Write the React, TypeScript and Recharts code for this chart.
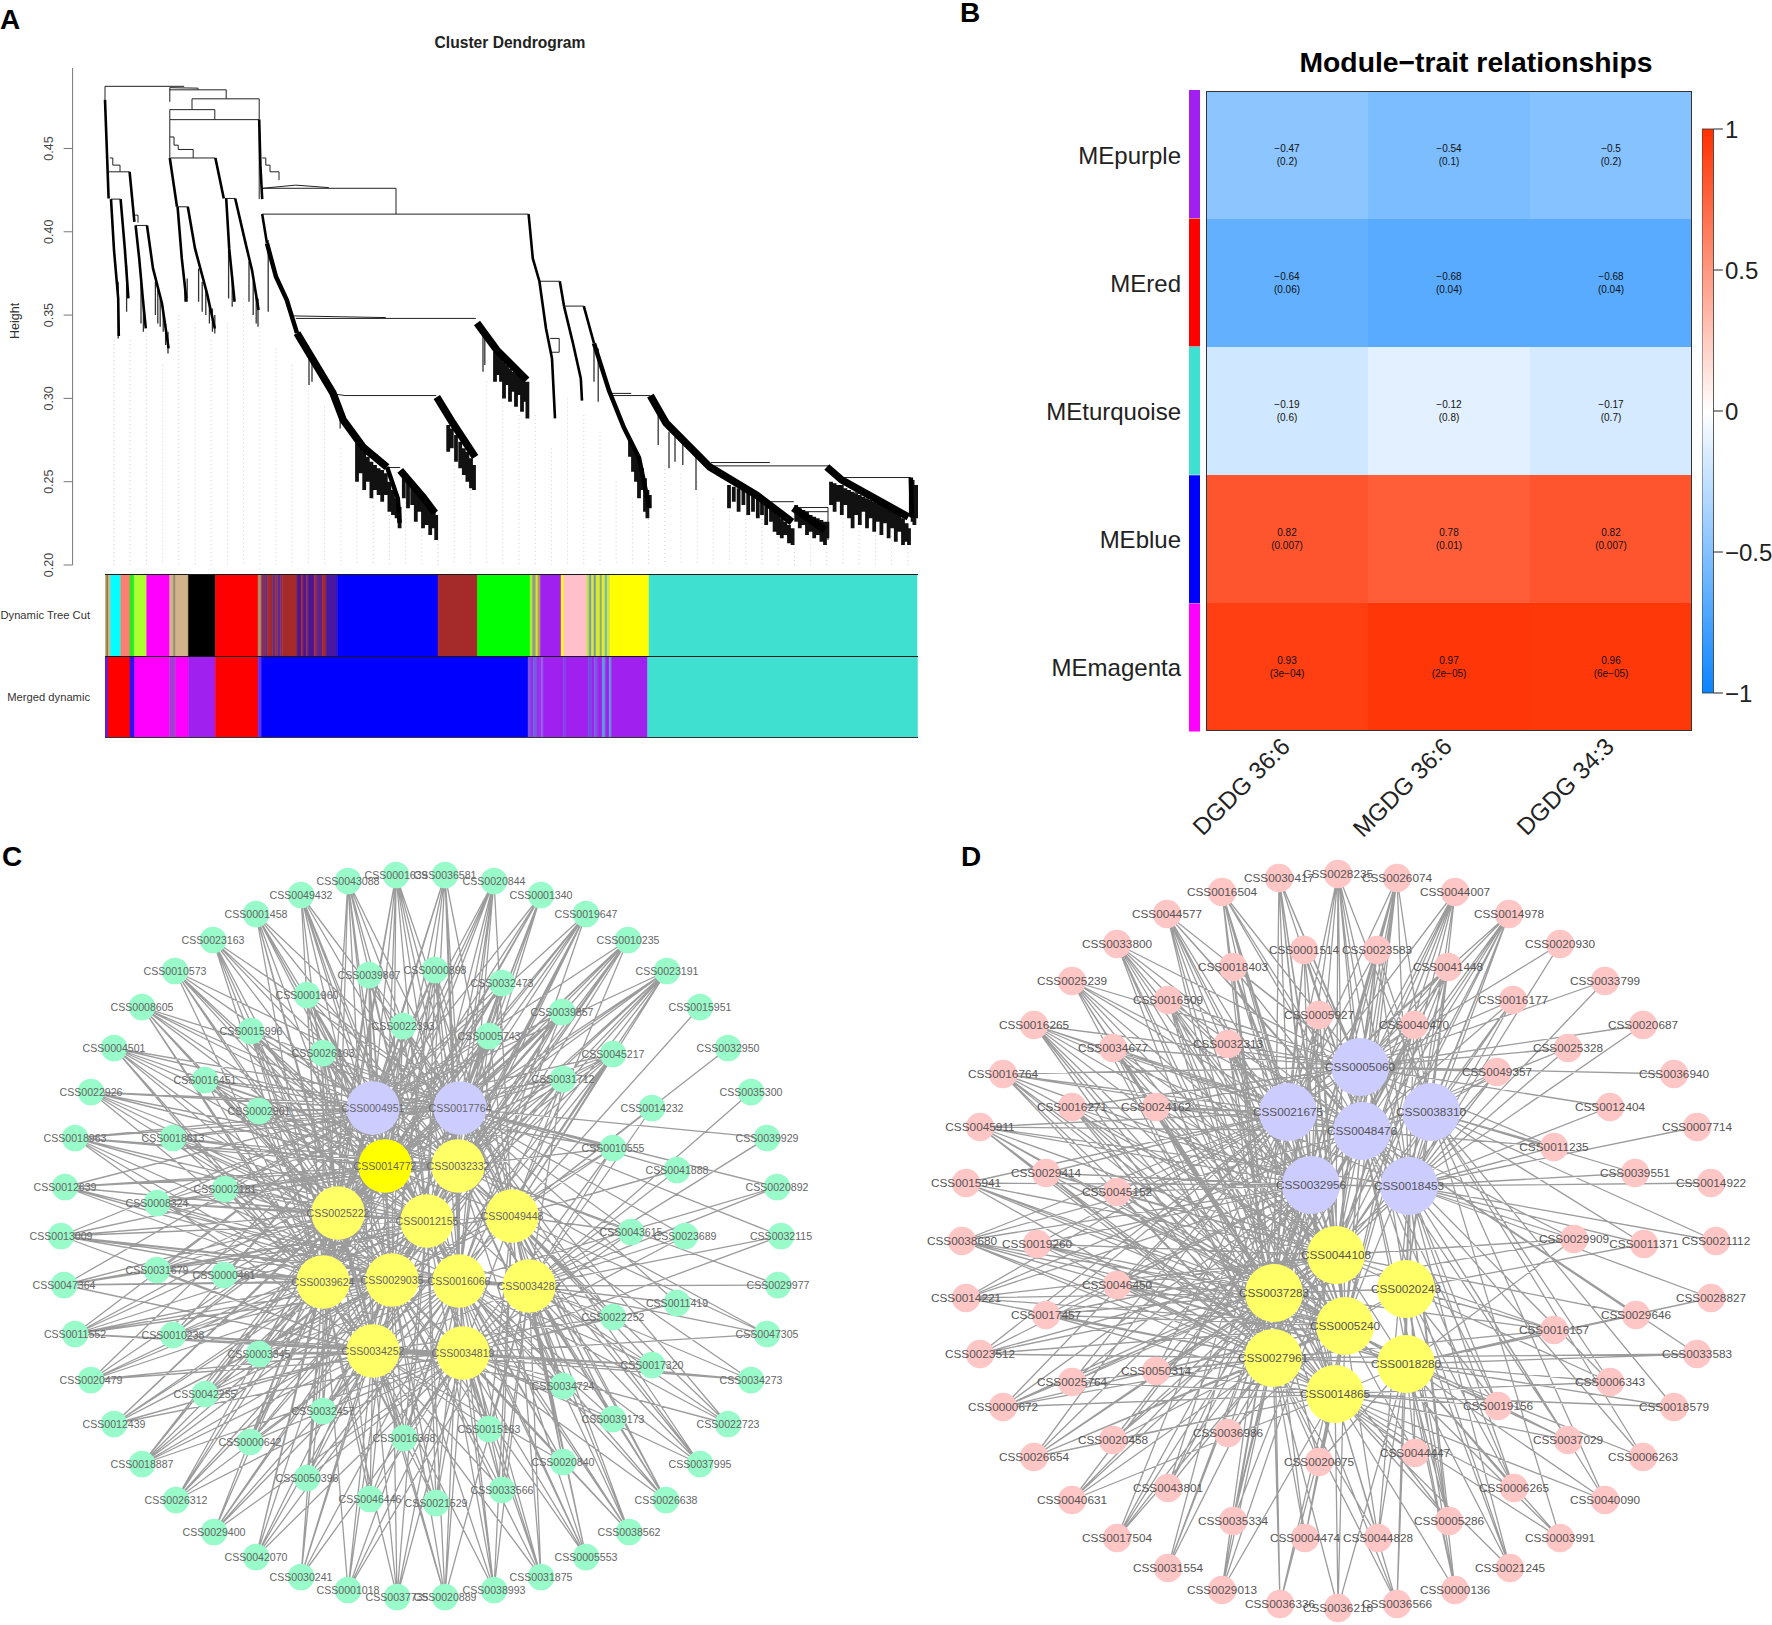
import {
  Area,
  Bar,
  BarChart,
  Cell,
  ComposedChart,
  LabelList,
  Line,
  ReferenceArea,
  Scatter,
  XAxis,
  YAxis,
} from "recharts";

const FONT = "'Liberation Sans', Arial, sans-serif";

// ---- panel A: dendrogram, x = leaf order, y = merge height
const heightTicks = [0.2, 0.25, 0.3, 0.35, 0.4, 0.45];
const treeMerges = [
  [[0, 0.4792], [0, 0.4873], [132, 0.4873]],
  [[108, 0.485], [108, 0.4865], [155, 0.4862], [155, 0.4852]],
  [[108, 0.478], [108, 0.4852], [202, 0.4852], [202, 0.4798]],
  [[145, 0.4733], [145, 0.4798], [257, 0.4798], [257, 0.4673]],
  [[108, 0.4673], [108, 0.4733], [183, 0.4733], [183, 0.4673]],
  [[108, 0.4443], [108, 0.4673], [257, 0.4673], [257, 0.4196]],
  [[108, 0.4569], [115, 0.4569], [115, 0.452], [122, 0.452], [122, 0.4494], [147, 0.4494], [147, 0.4443]],
  [[110, 0.4443], [184, 0.4443]],
  [[8, 0.4443], [13, 0.4443], [13, 0.44], [25, 0.44], [25, 0.436]],
  [[6, 0.436], [41, 0.436]],
  [[10, 0.4196], [26, 0.4196]],
  [[51, 0.4038], [70, 0.4038]],
  [[48, 0.41], [55, 0.41], [55, 0.4055]],
  [[121, 0.415], [138, 0.415]],
  [[200, 0.42], [217, 0.42]],
  [[262, 0.4443], [268, 0.4443], [268, 0.44], [275, 0.44], [275, 0.436], [290, 0.436], [290, 0.431]],
  [[262, 0.4261], [318, 0.428], [373, 0.4265]],
  [[262, 0.4261], [485, 0.4261], [485, 0.4106]],
  [[262, 0.4106], [706, 0.4106]],
  [[315, 0.3495], [393, 0.349], [468, 0.3485]],
  [[318, 0.348], [618, 0.348]],
  [[385, 0.3025], [400, 0.3017], [552, 0.3017]],
  [[472, 0.2585], [492, 0.2585]],
  [[724, 0.3703], [758, 0.3703]],
  [[742, 0.336], [757, 0.336], [757, 0.3277], [745, 0.3277]],
  [[765, 0.3554], [798, 0.3554]],
  [[843, 0.303], [877, 0.303]],
  [[843, 0.3017], [909, 0.3017]],
  [[1010, 0.2615], [1108, 0.2615]],
  [[1010, 0.2595], [1206, 0.2595]],
  [[1110, 0.238], [1148, 0.238]],
  [[1148, 0.2345], [1205, 0.2345], [1205, 0.215]],
  [[1160, 0.232], [1205, 0.232]],
  [[1230, 0.2525], [1343, 0.2525]],
  [[1250, 0.2435], [1290, 0.24]],
];
const strandsMid = [
  [[0, 0.4792], [3, 0.45], [6, 0.42]],
  [[10, 0.4196], [15, 0.389], [22, 0.36], [23, 0.3375]],
  [[26, 0.4196], [33, 0.39], [39, 0.36]],
  [[41, 0.436], [49, 0.406]],
  [[51, 0.4038], [57, 0.384], [63, 0.36], [68, 0.342]],
  [[70, 0.4038], [80, 0.378], [95, 0.357], [106, 0.33]],
  [[108, 0.4443], [120, 0.415]],
  [[121, 0.415], [128, 0.384], [136, 0.358]],
  [[138, 0.415], [150, 0.39], [170, 0.363], [183, 0.342]],
  [[184, 0.4443], [198, 0.42]],
  [[202, 0.42], [207, 0.39], [216, 0.358]],
  [[217, 0.42], [235, 0.392], [245, 0.377], [256, 0.353]],
  [[257, 0.4673], [259, 0.44], [262, 0.4196]],
  [[706, 0.4106], [713, 0.384], [724, 0.3703]],
  [[724, 0.3703], [735, 0.342], [745, 0.324], [750, 0.288]],
  [[758, 0.3703], [765, 0.3554]],
  [[765, 0.3554], [780, 0.333], [793, 0.312], [795, 0.2987]],
  [[798, 0.3554], [815, 0.333]],
  [[262, 0.4106], [270, 0.393]],
];
const strandsThick = [
  [[270, 0.393], [285, 0.373], [303, 0.359], [320, 0.3392]],
  [[470, 0.2588], [488, 0.24], [491, 0.2252]],
  [[815, 0.333], [840, 0.3047], [865, 0.2823], [890, 0.2644], [907, 0.2346]],
  [[1343, 0.2525], [1345, 0.2285]],
];
const strandsFat = [
  [[320, 0.3392], [347, 0.323], [380, 0.3032], [397, 0.287], [430, 0.2708], [470, 0.2588]],
  [[492, 0.2568], [530, 0.2408], [550, 0.2312]],
  [[553, 0.3008], [580, 0.285], [617, 0.2648]],
  [[620, 0.3452], [653, 0.329], [703, 0.311]],
  [[909, 0.3017], [935, 0.2853], [975, 0.2708], [1008, 0.2588], [1086, 0.242], [1145, 0.2258]],
  [[1147, 0.2342], [1200, 0.221]],
  [[1203, 0.2588], [1228, 0.251], [1267, 0.2432], [1339, 0.2288]],
];
// single thin leaves hanging under the strands
const thinHairs = [
  [22, 0.37, 0.336], [36, 0.38, 0.352], [60, 0.37, 0.345], [64, 0.36, 0.34],
  [84, 0.37, 0.35], [88, 0.365, 0.345], [92, 0.36, 0.343], [97, 0.355, 0.34], [101, 0.345, 0.332], [105, 0.34, 0.327],
  [133, 0.37, 0.358], [137, 0.372, 0.36], [156, 0.378, 0.358], [162, 0.37, 0.352], [168, 0.365, 0.35], [174, 0.358, 0.345], [179, 0.354, 0.34], [183, 0.35, 0.339],
  [206, 0.395, 0.36], [212, 0.375, 0.355], [240, 0.382, 0.358], [247, 0.37, 0.35], [252, 0.362, 0.345], [255, 0.36, 0.343],
  [272, 0.395, 0.352], [340, 0.33, 0.308], [345, 0.325, 0.31], [392, 0.29, 0.282],
  [630, 0.338, 0.316], [633, 0.336, 0.32], [815, 0.33, 0.31], [822, 0.33, 0.298],
  [922, 0.29, 0.272], [940, 0.28, 0.258], [950, 0.278, 0.262], [963, 0.274, 0.26], [985, 0.268, 0.245],
];
// tails of the big branches, close enough to merge into a spiky band
const tailHairs = [
  [420, 0.275, 0.25], [426, 0.27, 0.255], [432, 0.268, 0.245], [438, 0.265, 0.25], [444, 0.262, 0.24], [450, 0.26, 0.245], [456, 0.258, 0.242], [462, 0.257, 0.238], [468, 0.255, 0.242], [474, 0.25, 0.232], [480, 0.245, 0.23], [486, 0.24, 0.228], [491, 0.235, 0.222],
  [498, 0.256, 0.24], [505, 0.252, 0.234], [512, 0.248, 0.236], [518, 0.245, 0.226], [524, 0.242, 0.232], [530, 0.24, 0.222], [536, 0.236, 0.224], [542, 0.234, 0.218], [548, 0.232, 0.222], [552, 0.23, 0.215],
  [572, 0.284, 0.268], [578, 0.282, 0.27], [585, 0.278, 0.262], [592, 0.274, 0.258], [598, 0.27, 0.254], [604, 0.268, 0.25], [610, 0.264, 0.246], [615, 0.26, 0.245],
  [650, 0.328, 0.31], [655, 0.328, 0.314], [660, 0.325, 0.31], [665, 0.322, 0.3], [670, 0.32, 0.308], [675, 0.318, 0.298], [680, 0.316, 0.304], [685, 0.315, 0.295], [690, 0.314, 0.302], [695, 0.312, 0.292], [700, 0.31, 0.298], [704, 0.31, 0.288],
  [875, 0.275, 0.265], [880, 0.27, 0.256], [885, 0.268, 0.25], [890, 0.264, 0.24], [895, 0.258, 0.245], [900, 0.252, 0.232], [904, 0.245, 0.228], [908, 0.242, 0.234],
  [1040, 0.248, 0.234], [1048, 0.247, 0.238], [1056, 0.246, 0.232], [1064, 0.245, 0.236], [1072, 0.244, 0.23], [1080, 0.243, 0.232], [1088, 0.242, 0.228], [1095, 0.24, 0.23], [1102, 0.238, 0.224], [1110, 0.235, 0.226], [1116, 0.232, 0.22], [1122, 0.23, 0.218], [1128, 0.228, 0.216], [1134, 0.226, 0.218], [1140, 0.224, 0.213], [1146, 0.222, 0.212],
  [1152, 0.236, 0.226], [1158, 0.234, 0.222], [1164, 0.233, 0.224], [1170, 0.232, 0.218], [1176, 0.23, 0.22], [1182, 0.229, 0.216], [1188, 0.228, 0.218], [1194, 0.227, 0.214], [1200, 0.226, 0.212], [1204, 0.226, 0.216],
  [1210, 0.25, 0.236], [1216, 0.249, 0.232], [1222, 0.248, 0.238], [1228, 0.248, 0.23], [1234, 0.246, 0.236], [1240, 0.245, 0.228], [1246, 0.244, 0.222], [1252, 0.243, 0.23], [1258, 0.242, 0.224], [1264, 0.241, 0.232], [1270, 0.24, 0.222], [1276, 0.239, 0.228], [1282, 0.238, 0.22], [1288, 0.237, 0.226], [1294, 0.236, 0.218], [1300, 0.235, 0.225], [1306, 0.234, 0.216], [1312, 0.233, 0.222], [1318, 0.232, 0.214], [1324, 0.23, 0.22], [1330, 0.228, 0.212], [1336, 0.225, 0.214], [1340, 0.222, 0.212],
  [1343, 0.251, 0.229], [1346, 0.251, 0.226], [1349, 0.248, 0.224], [1352, 0.246, 0.228], [1355, 0.248, 0.23],
];
const guideX = [15, 42, 69, 96, 123, 150, 177, 204, 231, 258, 285, 312, 339, 366, 393, 420, 447, 474, 501, 528, 555, 582, 609, 636, 663, 690, 717, 744, 771, 798, 825, 852, 879, 906, 933, 960, 987, 1014, 1041, 1068, 1095, 1122, 1149, 1176, 1203, 1230, 1257, 1284, 1311, 1338];
const guideTop = [0.335, 0.335, 0.34, 0.32, 0.35, 0.345, 0.335, 0.345, 0.36, 0.345, 0.33, 0.32, 0.305, 0.295, 0.27, 0.25, 0.245, 0.23, 0.24, 0.225, 0.215, 0.26, 0.245, 0.31, 0.3, 0.29, 0.29, 0.27, 0.3, 0.29, 0.28, 0.25, 0.24, 0.23, 0.26, 0.255, 0.25, 0.24, 0.235, 0.23, 0.23, 0.22, 0.215, 0.22, 0.215, 0.24, 0.23, 0.225, 0.22, 0.215];

// colour rows under the tree, widths are in leaf counts
const treeCutColors = ["#d2b48c", "#7a6a20", "#d2b48c", "#00ffff", "#fa8072", "#22ee22", "#adff2f", "#ff00ff", "#d2b48c", "#9a8a70", "#d2b48c", "#000000", "#ff0000", "#b08a6a", "#8a2a5a", "#5a2a8a", "#a52a2a", "#6a2a7a", "#a52a2a", "#5a2a9a", "#8a2a5a", "#a52a2a", "#a52a2a", "#4a1590", "#a52a2a", "#4a1590", "#8a2a5a", "#4a1590", "#9a2a4a", "#5a2090", "#a52a2a", "#4818a0", "#0000ff", "#a52a2a", "#00ff00", "#b8e040", "#8aa080", "#e0e030", "#a8a060", "#ffff00", "#a020f0", "#ffff00", "#ffc0cb", "#c8e040", "#70a0a0", "#e0e040", "#70a0a0", "#d8e838", "#8ab070", "#e8e830", "#60c0b0", "#d0e050", "#ffff00", "#40e0d0"];
const treeCutWidths = [1.7, 1.3, 2.7, 10, 9.3, 4.2, 12.5, 23, 3.7, 2.3, 12.7, 27, 42.7, 3.3, 4, 2, 5, 3, 2, 3, 2, 14.7, 0, 4, 2, 3, 2, 6, 3, 5, 4, 11.3, 100.7, 39.3, 52.7, 2.5, 3.3, 2, 2.5, 0, 20.7, 2.7, 23, 2.4, 2.3, 2.5, 2, 4, 2, 3, 2, 3, 39, 268];
const mergedColors = ["#5a20e0", "#ff0000", "#3010f0", "#ff00ff", "#a040d0", "#ff00ff", "#a020f0", "#ff0000", "#6a30e8", "#0000ff", "#7a50e0", "#a020f0", "#7060e0", "#a020f0", "#9040e8", "#a020f0", "#8a70e0", "#a020f0", "#6a50e0", "#a020f0", "#6a50e0", "#a020f0", "#7060e0", "#a020f0", "#50a0d0", "#a020f0", "#50a0d0", "#a020f0", "#40e0d0"];
const mergedWidths = [3, 22, 4.7, 35, 6, 12.7, 27, 42.7, 3.3, 266.7, 3, 2, 4, 2, 1, 1.5, 1.5, 20.5, 1.7, 23, 3, 3, 3, 5, 3, 4, 2, 36.3, 269.9];

// ---- panel B: heat map
const moduleNames = ["MEpurple", "MEred", "MEturquoise", "MEblue", "MEmagenta"];
const moduleColors = ["#a020f0", "#ff0000", "#40e0d0", "#0000ff", "#ff00ff"];
const traitNames = ["DGDG 36:6", "MGDG 36:6", "DGDG 34:3"];
const traitCorr = [
  [-0.47, -0.54, -0.5],
  [-0.64, -0.68, -0.68],
  [-0.19, -0.12, -0.17],
  [0.82, 0.78, 0.82],
  [0.93, 0.97, 0.96],
];
const traitCorrText = [
  ["−0.47", "−0.54", "−0.5"],
  ["−0.64", "−0.68", "−0.68"],
  ["−0.19", "−0.12", "−0.17"],
  ["0.82", "0.78", "0.82"],
  ["0.93", "0.97", "0.96"],
];
const traitP = [
  ["(0.2)", "(0.1)", "(0.2)"],
  ["(0.06)", "(0.04)", "(0.04)"],
  ["(0.6)", "(0.8)", "(0.7)"],
  ["(0.007)", "(0.01)", "(0.007)"],
  ["(3e−04)", "(2e−05)", "(6e−05)"],
];
const barTicks = [-1, -0.5, 0, 0.5, 1];

// ---- panels C and D: hubs are [name, x, y], leaves are [name, x, y, hubs it links to]
const cPurpleHubs = [["CSS0004951", 373, 1108], ["CSS0017764", 460, 1108]];
const cBrightHub = [["CSS0014772", 385, 1166]];
const cYellowHubs = [
  ["CSS0032332", 458, 1166], ["CSS0025222", 338, 1213], ["CSS0012155", 427, 1221], ["CSS0049448", 512, 1216],
  ["CSS0039624", 323, 1282], ["CSS0029035", 392, 1280], ["CSS0016066", 459, 1281], ["CSS0034282", 529, 1286],
  ["CSS0034252", 373, 1351], ["CSS0034819", 463, 1353],
];
// a b are purple, c bright, d..m yellow in the order above
const cHubKeys = "abcdefghijklm";
const cHubLinks = "ac,ad,ae,af,ag,ah,bc,bd,be,bf,bg,bj,cd,ce,cf,cg,ci,ch,de,df,dg,dj,di,ef,eh,ei,el,fg,fi,fj,fl,fm,gj,gk,gm,hi,hl,hj,ij,il,im,ik,jk,jm,jl,kl,km,lm";
const cLeaves = [
  ["CSS0043088", 348, 881, "abcdfhjlei"], ["CSS0001639", 396, 875, "abcdefgijh"], ["CSS0036581", 445, 875, "abcdegjmfi"], ["CSS0020844", 494, 881, "abcdefghij"],
  ["CSS0001340", 541, 895, "abcdfehi"], ["CSS0019647", 586, 914, "abcdefhlij"], ["CSS0010235", 628, 940, "abcdefhigl"], ["CSS0023191", 667, 971, "abcdefhjlig"],
  ["CSS0015951", 700, 1007, "g"], ["CSS0032950", 728, 1048, "g"], ["CSS0035300", 751, 1092, "k"], ["CSS0039929", 767, 1138, "bk"],
  ["CSS0020892", 777, 1187, "bkj"], ["CSS0032115", 781, 1236, "bkm"], ["CSS0029977", 778, 1285, "dkk"], ["CSS0047305", 767, 1334, "dgkm"],
  ["CSS0034273", 751, 1380, "gklmk"], ["CSS0022723", 728, 1424, "bgkmj"], ["CSS0037995", 700, 1464, "dgjkmb"], ["CSS0026638", 666, 1500, "bdgjkmf"],
  ["CSS0038562", 629, 1532, "dfgjkmi"], ["CSS0005553", 586, 1557, "dfgjkmi"], ["CSS0031875", 541, 1577, "fijklmg"], ["CSS0038993", 494, 1590, "fgijlmk"],
  ["CSS0020889", 445, 1597, "ijklmfe"], ["CSS0037735", 397, 1597, "hijlmf"], ["CSS0001018", 348, 1590, "hijklm"], ["CSS0030241", 301, 1577, "ehilmj"],
  ["CSS0042070", 256, 1557, "cehjlim"], ["CSS0029400", 214, 1532, "ehijlmf"], ["CSS0026312", 176, 1500, "cehilfm"], ["CSS0018887", 142, 1464, "cefhijlm"],
  ["CSS0012439", 114, 1424, "eghilmfc"], ["CSS0020479", 91, 1380, "aefhilmi"], ["CSS0011552", 75, 1334, "acefhlmij"], ["CSS0047364", 64, 1285, "aeghijfhl"],
  ["CSS0013009", 61, 1236, "acefhjkil"], ["CSS0012639", 65, 1187, "acdefhij"], ["CSS0018963", 75, 1138, "abcefhidl"], ["CSS0022926", 91, 1092, "abcefhdi"],
  ["CSS0004501", 114, 1048, "abcefildh"], ["CSS0008605", 142, 1007, "abcefhidl"], ["CSS0010573", 175, 971, "abcefhdij"], ["CSS0023163", 213, 940, "abcefhidl"],
  ["CSS0001458", 256, 914, "abcefhijdl"], ["CSS0049432", 301, 895, "abcdefhij"],
  ["CSS0039867", 369, 975, "abcefildh"], ["CSS0000898", 435, 970, "abcdfgjei"], ["CSS0001960", 307, 995, "acefhijbd"], ["CSS0022393", 403, 1026, "abcdefiglh"],
  ["CSS0015996", 251, 1031, "acefhikbl"], ["CSS0026103", 323, 1053, "acefhilbd"], ["CSS0016451", 205, 1080, "abcefhdi"], ["CSS0002901", 259, 1111, "abcefhidl"],
  ["CSS0018613", 173, 1138, "abcefhidj"], ["CSS0002181", 225, 1189, "acefhikdl"], ["CSS0008324", 157, 1203, "abcefhjdi"], ["CSS0031679", 157, 1270, "cefhilak"],
  ["CSS0000461", 224, 1275, "aefhijhk"], ["CSS0010238", 173, 1335, "acehlmfi"], ["CSS0003345", 259, 1354, "cehilmfj"], ["CSS0042255", 205, 1394, "cehilfj"],
  ["CSS0032457", 323, 1411, "ehilmfg"], ["CSS0000642", 250, 1442, "cehilfm"], ["CSS0016368", 404, 1438, "hijlmef"], ["CSS0015163", 489, 1429, "gijklmf"],
  ["CSS0050396", 307, 1478, "ehiljm"], ["CSS0020840", 563, 1462, "gjklmfi"], ["CSS0046446", 370, 1499, "hilmej"], ["CSS0021529", 436, 1503, "ijlmfh"],
  ["CSS0033566", 502, 1490, "gjklmif"], ["CSS0034724", 563, 1386, "dgjkmbl"], ["CSS0039173", 613, 1419, "gjkmbd"], ["CSS0017320", 652, 1365, "gklmj"],
  ["CSS0022252", 613, 1317, "dgkmbl"], ["CSS0011419", 677, 1303, "bkmk"], ["CSS0032473", 502, 983, "abcdefhij"], ["CSS0039857", 562, 1012, "abcdefhijl"],
  ["CSS0005743", 489, 1036, "abcdefgjh"], ["CSS0045217", 613, 1054, "abdefgjcl"], ["CSS0031712", 563, 1079, "abdfgikcj"], ["CSS0014232", 652, 1108, "gk"],
  ["CSS0010555", 613, 1148, "bdgkmai"], ["CSS0041888", 677, 1170, "bgk"], ["CSS0043615", 631, 1232, "bdkmg"], ["CSS0023689", 685, 1236, "bkm"],
];

const dPurpleHubs = [
  ["CSS0021675", 1288, 1112], ["CSS0032956", 1311, 1185], ["CSS0005060", 1360, 1067], ["CSS0048476", 1362, 1131], ["CSS0038310", 1431, 1112], ["CSS0018453", 1409, 1186],
];
const dYellowHubs = [
  ["CSS0044108", 1336, 1255], ["CSS0037283", 1274, 1293], ["CSS0020243", 1406, 1289], ["CSS0005240", 1345, 1326], ["CSS0027961", 1273, 1358], ["CSS0018280", 1406, 1364], ["CSS0014865", 1335, 1394],
];
const dHubKeys = "abcdefghijklm";
const dHubLinks = "ab,ac,ad,ah,bd,bf,bg,bh,bk,cd,ce,cf,cg,de,df,dg,dj,ef,ei,eg,fg,fi,fl,fh,gh,gi,gj,gl,hj,hk,hi,ij,il,ik,jk,jl,jm,kl,km,lm,am,bm,dh,dk";
const dLeaves = [
  ["CSS0030417", 1279, 878, "abcdfghjkm"], ["CSS0028235", 1338, 874, "abcdefgjhi"], ["CSS0026074", 1397, 878, "abcdefhjkg"], ["CSS0016504", 1222, 892, "abcdhjkgfm"],
  ["CSS0044007", 1455, 892, "abcdefghkj"], ["CSS0044577", 1167, 914, "abcdhkgjfm"], ["CSS0014978", 1509, 914, "abcdefghkj"], ["CSS0033800", 1117, 944, "abcdhkgjm"],
  ["CSS0020930", 1560, 944, "cf"], ["CSS0025239", 1072, 981, "abcdhkjgm"], ["CSS0033799", 1605, 981, "cf"], ["CSS0016265", 1034, 1025, "abcdhkgjfm"],
  ["CSS0020687", 1643, 1025, "cf"], ["CSS0016764", 1003, 1074, "abchkgjdm"], ["CSS0036940", 1674, 1074, "c"], ["CSS0045911", 980, 1127, "abdhkgmjf"],
  ["CSS0007714", 1697, 1127, "f"], ["CSS0015941", 966, 1183, "abhkgjlm"], ["CSS0014922", 1711, 1183, "f"], ["CSS0038680", 962, 1241, "abdhkjml"],
  ["CSS0021112", 1716, 1241, "ef"], ["CSS0014221", 966, 1298, "abhkgjd"], ["CSS0028827", 1711, 1298, "fl"], ["CSS0023512", 980, 1354, "abhkjkg"],
  ["CSS0033583", 1697, 1354, "kkdl"], ["CSS0000672", 1003, 1407, "abhkmgj"], ["CSS0018579", 1674, 1407, "elm"], ["CSS0026654", 1034, 1457, "bhkgmaj"],
  ["CSS0006263", 1643, 1457, "efl"], ["CSS0040631", 1072, 1500, "hkmbg"], ["CSS0040090", 1605, 1500, "flme"], ["CSS0017504", 1117, 1538, "hkbga"],
  ["CSS0003991", 1560, 1538, "lmje"], ["CSS0031554", 1168, 1568, "hkba"], ["CSS0021245", 1510, 1568, "filmd"], ["CSS0029013", 1222, 1590, "hkgmba"],
  ["CSS0000136", 1455, 1590, "ilmfd"], ["CSS0036336", 1280, 1604, "kjmh"], ["CSS0036218", 1338, 1608, "jkml"], ["CSS0036566", 1397, 1604, "lmhfk"],
  ["CSS0001514", 1304, 950, "abcdhgjbd"], ["CSS0023583", 1377, 950, "abcdefgjh"], ["CSS0018403", 1233, 967, "abcdhkjgb"], ["CSS0041448", 1448, 967, "abcdefgijh"],
  ["CSS0016509", 1168, 1000, "abcdhkjgm"], ["CSS0016177", 1513, 1000, "cdfeg"], ["CSS0005927", 1319, 1015, "abcdghjk"], ["CSS0040470", 1414, 1025, "acdefghj"],
  ["CSS0032313", 1228, 1044, "abcdhkgjm"], ["CSS0034677", 1113, 1048, "abchkgjdm"], ["CSS0025328", 1568, 1048, "cdf"], ["CSS0049357", 1497, 1072, "cefdg"],
  ["CSS0016271", 1072, 1107, "abchkjgm"], ["CSS0024162", 1156, 1107, "abchkgmjd"], ["CSS0012404", 1610, 1107, "cff"], ["CSS0011235", 1554, 1147, "cefd"],
  ["CSS0029414", 1046, 1173, "abhkgjm"], ["CSS0045152", 1117, 1192, "abhkglj"], ["CSS0039551", 1635, 1173, "eff"], ["CSS0029909", 1574, 1239, "dfglh"],
  ["CSS0011371", 1644, 1244, "efi"], ["CSS0019260", 1037, 1244, "abhkjlg"], ["CSS0046450", 1117, 1285, "abhkgjlm"], ["CSS0017457", 1046, 1315, "abhkmgj"],
  ["CSS0050314", 1156, 1371, "bhkgjam"], ["CSS0025764", 1072, 1382, "bhkmag"], ["CSS0020458", 1113, 1440, "bhkmg"], ["CSS0036986", 1228, 1433, "hkgjb"],
  ["CSS0043801", 1168, 1488, "hkba"], ["CSS0020675", 1319, 1462, "kjlmh"], ["CSS0035334", 1233, 1521, "hkgb"], ["CSS0004474", 1305, 1538, "jkmh"],
  ["CSS0044828", 1378, 1538, "jlmfk"], ["CSS0005286", 1449, 1521, "hfilmd"], ["CSS0044447", 1415, 1453, "kjlmf"], ["CSS0006265", 1514, 1488, "filmd"],
  ["CSS0037029", 1568, 1440, "dflmh"], ["CSS0019156", 1498, 1406, "flimd"], ["CSS0006343", 1610, 1382, "eilmd"], ["CSS0016157", 1554, 1330, "iklgh"],
  ["CSS0029646", 1636, 1315, "dgl"],
];

const BAR_LOW = [10, 132, 255];
const BAR_HIGH = [255, 48, 0];
const corrColor = (v: number) => {
  const end = v < 0 ? BAR_LOW : BAR_HIGH;
  const t = Math.abs(v);
  const c = end.map((e) => Math.round(255 + (e - 255) * t));
  return `rgb(${c[0]},${c[1]},${c[2]})`;
};

const brokenPath = (paths: number[][][]) =>
  paths.flatMap((p) => [
    ...p.map(([x, y]) => ({ x, y })),
    { x: p[p.length - 1][0], y: null },
  ]);

const toHairPath = ([x, a, b]: number[]) => [[x, a], [x, b]];
const guidePaths = guideX.map((x, i) => [[x, guideTop[i]], [x, 0.2]]);

const Abs = ({ left, top, children }: any) => (
  <div style={{ position: "absolute", left, top }}>{children}</div>
);

const Rule = ({ left, top, width, height, color }: any) => (
  <div style={{ position: "absolute", left, top, width, height, background: color }} />
);

const PanelLetter = ({ left, baseline, text }: any) => (
  <div
    style={{
      position: "absolute",
      left,
      top: baseline - 21.7,
      fontFamily: FONT,
      fontWeight: 700,
      fontSize: 28,
      lineHeight: "24px",
      color: "#000",
    }}
  >
    {text}
  </div>
);

function Dendrogram() {
  const heightTick = ({ x, y, payload }: any) => (
    <text
      x={x - 9}
      y={y}
      transform={`rotate(-90 ${x - 9} ${y})`}
      textAnchor="middle"
      fontSize={12.5}
      fontFamily={FONT}
      fill="#444"
    >
      {payload.value.toFixed(2)}
    </text>
  );
  return (
    <ComposedChart width={925} height={585} margin={{ top: 68, right: 7, bottom: 20, left: 0 }}>
      <XAxis type="number" dataKey="x" domain={[-54, 1355]} hide allowDataOverflow />
      <YAxis
        type="number"
        dataKey="y"
        width={72.6}
        domain={[0.2, 0.4983]}
        ticks={heightTicks}
        tick={heightTick}
        tickSize={9}
        stroke="#777"
        interval={0}
        allowDataOverflow
      />
      <Line data={brokenPath(guidePaths)} dataKey="y" stroke="#cfcfcf" strokeWidth={1} strokeDasharray="1 3" dot={false} isAnimationActive={false} />
      <Line data={brokenPath(treeMerges)} dataKey="y" stroke="#222" strokeWidth={1} dot={false} isAnimationActive={false} />
      <Line data={brokenPath(thinHairs.map(toHairPath))} dataKey="y" stroke="#333" strokeWidth={1.3} dot={false} isAnimationActive={false} />
      <Line data={brokenPath(tailHairs.map(toHairPath))} dataKey="y" stroke="#111" strokeWidth={3.8} dot={false} isAnimationActive={false} />
      <Line data={brokenPath(strandsMid)} dataKey="y" stroke="#000" strokeWidth={2.6} dot={false} isAnimationActive={false} />
      <Line data={brokenPath(strandsThick)} dataKey="y" stroke="#000" strokeWidth={4.5} dot={false} isAnimationActive={false} />
      <Line data={brokenPath(strandsFat)} dataKey="y" stroke="#000" strokeWidth={7.5} dot={false} isAnimationActive={false} />
    </ComposedChart>
  );
}

function ColorRow({ label, widths, colors }: any) {
  const row: any = { label };
  widths.forEach((w: number, i: number) => (row[`s${i}`] = w));
  const rowTick = ({ x, y, payload }: any) => (
    <text x={x + 6} y={y + 4} textAnchor="end" fontSize={11.2} fontFamily={FONT} fill="#333">
      {payload.value}
    </text>
  );
  return (
    <BarChart
      width={918}
      height={82}
      data={[row]}
      layout="vertical"
      barCategoryGap={0}
      margin={{ top: 0, right: 0, bottom: 0, left: 0 }}
    >
      <XAxis type="number" domain={[0, 813]} hide allowDataOverflow />
      <YAxis
        type="category"
        dataKey="label"
        width={105}
        tickLine={false}
        axisLine={false}
        tickMargin={15}
        tick={rowTick}
      />
      {widths.map((_: number, i: number) => (
        <Bar key={i} dataKey={`s${i}`} stackId="row" fill={colors[i]} stroke={colors[i]} strokeWidth={0.5} isAnimationActive={false} />
      ))}
    </BarChart>
  );
}

function HeatMap() {
  const rows = moduleNames.map((m, r) => ({
    module: m,
    r,
    t0: 1,
    t1: 1,
    t2: 1,
  }));
  const traitTick = ({ x, y, payload }: any) => (
    <text
      x={x + 4.5}
      y={y + 9}
      transform={`rotate(-45 ${x + 4.5} ${y + 9})`}
      textAnchor="end"
      fontSize={24}
      fontFamily={FONT}
      fill="#222"
    >
      {traitNames[Math.floor(payload.value)]}
    </text>
  );
  const cellText = (col: number) => (p: any) => (
    <text textAnchor="middle" fontFamily={FONT} fontSize={10} fill="#111">
      <tspan x={p.x + p.width / 2} y={p.y + p.height / 2 - 3.4}>
        {traitCorrText[p.index][col]}
      </tspan>
      <tspan x={p.x + p.width / 2} y={p.y + p.height / 2 + 10}>
        {traitP[p.index][col]}
      </tspan>
    </text>
  );
  return (
    <BarChart
      width={692}
      height={770}
      data={rows}
      layout="vertical"
      barCategoryGap={0}
      margin={{ top: 0, right: 0, bottom: 0, left: 0 }}
    >
      <XAxis
        type="number"
        domain={[0, 3]}
        ticks={[0.5, 1.5, 2.5]}
        tick={traitTick}
        tickLine={false}
        axisLine={false}
        interval={0}
        height={130}
        allowDataOverflow
      />
      <YAxis
        type="category"
        dataKey="module"
        width={206}
        tickLine={false}
        axisLine={false}
        tickMargin={19}
        tick={{ fontSize: 24, fontFamily: FONT, fill: "#222" }}
      />
      {[0, 1, 2].map((col) => (
        <Bar key={col} dataKey={`t${col}`} stackId="cells" isAnimationActive={false}>
          {traitCorr.map((row, r) => (
            <Cell key={r} fill={corrColor(row[col])} />
          ))}
          <LabelList content={cellText(col)} />
        </Bar>
      ))}
    </BarChart>
  );
}

function ModuleStrip() {
  const rows = moduleNames.map((m) => ({ module: m, v: 1 }));
  return (
    <BarChart
      width={11}
      height={642}
      data={rows}
      layout="vertical"
      barCategoryGap={0}
      margin={{ top: 0, right: 0, bottom: 0, left: 0 }}
    >
      <XAxis type="number" domain={[0, 1]} hide />
      <YAxis type="category" dataKey="module" hide />
      <Bar dataKey="v" isAnimationActive={false}>
        {moduleColors.map((c) => (
          <Cell key={c} fill={c} />
        ))}
      </Bar>
    </BarChart>
  );
}

function ColorBar() {
  const fmt = (v: number) => String(v).replace("-", "−");
  return (
    <ComposedChart
      width={70}
      height={592}
      data={[{ x: 0, y: 1 }, { x: 1, y: 1 }]}
      margin={{ top: 14, right: 0, bottom: 14, left: 0 }}
    >
      <defs>
        <linearGradient id="corrBar" x1="0" y1="0" x2="0" y2="1">
          <stop offset="0%" stopColor="#ff3000" />
          <stop offset="50%" stopColor="#ffffff" />
          <stop offset="100%" stopColor="#0a84ff" />
        </linearGradient>
      </defs>
      <XAxis type="number" dataKey="x" domain={[0, 1]} hide />
      <YAxis
        orientation="right"
        width={58.5}
        domain={[-1, 1]}
        ticks={barTicks}
        tickFormatter={fmt}
        tickSize={9.4}
        tickMargin={2}
        axisLine={false}
        stroke="#222"
        tick={{ fontSize: 24, fontFamily: FONT, fill: "#222" }}
        interval={0}
      />
      <Area dataKey="y" baseValue={-1} fill="url(#corrBar)" fillOpacity={1} stroke="none" isAnimationActive={false} dot={false} />
      <ReferenceArea x1={0} x2={1} y1={-1} y2={1} fill="none" stroke="#333" strokeOpacity={0.8} />
    </ComposedChart>
  );
}

function Network({ left, width, hubKeys, hubLinks, hubs, leaves, groups, leafR, hubR, leafFill, fontSize, labelFill }: any) {
  const byKey: any = {};
  hubs.forEach((h: any, i: number) => (byKey[hubKeys[i]] = h));
  const paths: number[][][] = [];
  leaves.forEach((l: any) => {
    for (const k of l[3]) paths.push([[byKey[k][1], byKey[k][2]], [l[1], l[2]]]);
  });
  hubLinks.split(",").forEach((pair: string) => {
    const a = byKey[pair[0]];
    const b = byKey[pair[1]];
    paths.push([[a[1], a[2]], [b[1], b[2]]]);
  });
  const toRows = (list: any[]) => list.map((n) => ({ id: n[0], x: n[1], y: n[2] }));
  const dot = (r: number, fill: string) => (p: any) => <circle cx={p.cx} cy={p.cy} r={r} fill={fill} />;
  const labelStyle = { fontSize, fontFamily: FONT, fill: labelFill };
  return (
    <div style={{ position: "absolute", left, top: 840 }}>
      <ComposedChart width={width} height={785} margin={{ top: 0, right: 0, bottom: 0, left: 0 }}>
        <XAxis type="number" dataKey="x" domain={[left, left + width]} hide />
        <YAxis type="number" dataKey="y" domain={[840, 1625]} reversed hide />
        <Line data={brokenPath(paths)} dataKey="y" stroke="#9c9c9c" strokeWidth={1.3} dot={false} isAnimationActive={false} />
        <Scatter data={toRows(leaves)} shape={dot(leafR, leafFill)} isAnimationActive={false}>
          <LabelList dataKey="id" position="center" style={labelStyle} />
        </Scatter>
        {groups.map((g: any) => (
          <Scatter key={g.fill} data={toRows(g.nodes)} shape={dot(hubR, g.fill)} isAnimationActive={false}>
            <LabelList dataKey="id" position="center" style={labelStyle} />
          </Scatter>
        ))}
      </ComposedChart>
    </div>
  );
}

export default function App() {
  return (
    <div style={{ position: "absolute", left: 0, top: 0, width: 1772, height: 1625, background: "#fff", overflow: "hidden" }}>
      <PanelLetter left={0} baseline={30} text="A" />
      <PanelLetter left={960} baseline={23} text="B" />
      <PanelLetter left={2} baseline={867} text="C" />
      <PanelLetter left={961} baseline={867} text="D" />

      <div style={{ position: "absolute", left: 310, width: 400, top: 34, textAlign: "center", fontFamily: FONT, fontWeight: 700, fontSize: 15.6, color: "#222" }}>
        Cluster Dendrogram
      </div>
      <div style={{ position: "absolute", left: 0, top: 0 }}>
        <Dendrogram />
      </div>
      <div style={{ position: "absolute", left: 8, top: 339, transform: "rotate(-90deg)", transformOrigin: "0 0", fontFamily: FONT, fontSize: 12.5, color: "#333" }}>
        Height
      </div>
      <Abs left={0} top={574}>
        <ColorRow label="Dynamic Tree Cut" widths={treeCutWidths} colors={treeCutColors} />
      </Abs>
      <Abs left={0} top={656}>
        <ColorRow label="Merged dynamic" widths={mergedWidths} colors={mergedColors} />
      </Abs>
      <Rule left={105} top={574} width={813} height={1} color="#1a1a1a" />
      <Rule left={105} top={655.5} width={813} height={1} color="#1a1a1a" />
      <Rule left={105} top={737} width={813} height={1} color="#333" />

      <div style={{ position: "absolute", left: 1176, width: 600, top: 46, textAlign: "center", fontFamily: FONT, fontWeight: 700, fontSize: 28.3, color: "#000" }}>
        Module−trait relationships
      </div>
      <Abs left={1000} top={91}>
        <HeatMap />
      </Abs>
      <div style={{ position: "absolute", left: 1206, top: 91, width: 486, height: 640, border: "1px solid #333", boxSizing: "border-box" }} />
      <Abs left={1188.6} top={89.5}>
        <ModuleStrip />
      </Abs>
      <Abs left={1702} top={115}>
        <ColorBar />
      </Abs>

      <Network
        left={0}
        width={900}
        hubKeys={cHubKeys}
        hubLinks={cHubLinks}
        hubs={[...cPurpleHubs, ...cBrightHub, ...cYellowHubs]}
        leaves={cLeaves}
        groups={[
          { fill: "#ccccff", nodes: cPurpleHubs },
          { fill: "#ffff00", nodes: cBrightHub },
          { fill: "#ffff66", nodes: cYellowHubs },
        ]}
        leafR={13.3}
        hubR={26.7}
        leafFill="#98fbc9"
        fontSize={10.6}
        labelFill="#666"
      />
      <Network
        left={920}
        width={852}
        hubKeys={dHubKeys}
        hubLinks={dHubLinks}
        hubs={[...dPurpleHubs, ...dYellowHubs]}
        leaves={dLeaves}
        groups={[
          { fill: "#ccccff", nodes: dPurpleHubs },
          { fill: "#ffff66", nodes: dYellowHubs },
        ]}
        leafR={14.3}
        hubR={29}
        leafFill="#ffc6c6"
        fontSize={11.8}
        labelFill="#555"
      />
    </div>
  );
}
